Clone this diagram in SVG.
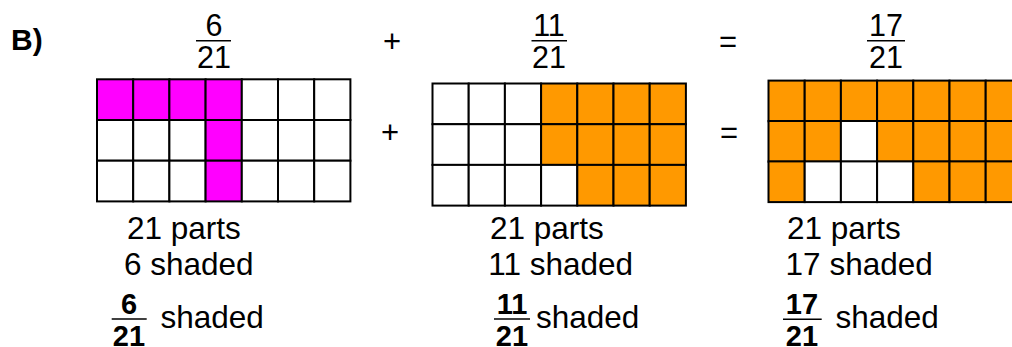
<svg xmlns="http://www.w3.org/2000/svg" width="1012" height="347" viewBox="0 0 1012 347">
<style>
.t{font-family:"Liberation Sans",Arial,sans-serif;font-size:31.5px;fill:#000}
.f{font-family:"Liberation Sans",Arial,sans-serif;font-size:30.5px;fill:#000;text-anchor:middle}
.fb{font-family:"Liberation Sans",Arial,sans-serif;font-size:29px;font-weight:bold;fill:#000;text-anchor:middle}
.op{font-family:"Liberation Sans",Arial,sans-serif;font-size:31px;fill:#000;text-anchor:middle}
.bar{stroke:#000;stroke-width:1.6}
.c rect{stroke:#000;stroke-width:2;width:36.2px;height:40.7px}
.w{fill:#fff}
.m{fill:#FF00FF}
.o{fill:#FF9900}
</style>
<rect width="1012" height="347" fill="#fff"/>
<g id="label-B"><text class="t" x="11" y="50" style="font-weight:bold;font-size:30px">B)</text></g>

<g id="frac-top-1">
<text class="f" x="214" y="36">6</text>
<line class="bar" x1="196" y1="40.7" x2="231" y2="40.7"/>
<text class="f" x="214" y="68">21</text>
</g>
<g id="frac-top-2">
<text class="f" x="549" y="36">11</text>
<line class="bar" x1="531.5" y1="40.7" x2="567" y2="40.7"/>
<text class="f" x="549" y="68">21</text>
</g>
<g id="frac-top-3">
<text class="f" x="886" y="36">17</text>
<line class="bar" x1="867" y1="40.7" x2="905" y2="40.7"/>
<text class="f" x="886" y="68">21</text>
</g>

<g id="ops">
<text class="op" x="392" y="51.5">+</text>
<text class="op" x="390" y="142.5">+</text>
<text class="op" x="728" y="52">=</text>
<text class="op" x="729" y="143">=</text>
</g>

<g id="grid-1" class="c" transform="translate(97,79.3)">
<rect class="m" x="0" y="0"/><rect class="m" x="36.2" y="0"/><rect class="m" x="72.4" y="0"/><rect class="m" x="108.6" y="0"/><rect class="w" x="144.8" y="0"/><rect class="w" x="181" y="0"/><rect class="w" x="217.2" y="0"/>
<rect class="w" x="0" y="40.7"/><rect class="w" x="36.2" y="40.7"/><rect class="w" x="72.4" y="40.7"/><rect class="m" x="108.6" y="40.7"/><rect class="w" x="144.8" y="40.7"/><rect class="w" x="181" y="40.7"/><rect class="w" x="217.2" y="40.7"/>
<rect class="w" x="0" y="81.4"/><rect class="w" x="36.2" y="81.4"/><rect class="w" x="72.4" y="81.4"/><rect class="m" x="108.6" y="81.4"/><rect class="w" x="144.8" y="81.4"/><rect class="w" x="181" y="81.4"/><rect class="w" x="217.2" y="81.4"/>
</g>

<g id="grid-2" class="c" transform="translate(432.5,83.5)">
<rect class="w" x="0" y="0"/><rect class="w" x="36.2" y="0"/><rect class="w" x="72.4" y="0"/><rect class="o" x="108.6" y="0"/><rect class="o" x="144.8" y="0"/><rect class="o" x="181" y="0"/><rect class="o" x="217.2" y="0"/>
<rect class="w" x="0" y="40.7"/><rect class="w" x="36.2" y="40.7"/><rect class="w" x="72.4" y="40.7"/><rect class="o" x="108.6" y="40.7"/><rect class="o" x="144.8" y="40.7"/><rect class="o" x="181" y="40.7"/><rect class="o" x="217.2" y="40.7"/>
<rect class="w" x="0" y="81.4"/><rect class="w" x="36.2" y="81.4"/><rect class="w" x="72.4" y="81.4"/><rect class="w" x="108.6" y="81.4"/><rect class="o" x="144.8" y="81.4"/><rect class="o" x="181" y="81.4"/><rect class="o" x="217.2" y="81.4"/>
</g>

<g id="grid-3" class="c" transform="translate(768.5,80.6)">
<rect class="o" x="0" y="0"/><rect class="o" x="36.2" y="0"/><rect class="o" x="72.4" y="0"/><rect class="o" x="108.6" y="0"/><rect class="o" x="144.8" y="0"/><rect class="o" x="181" y="0"/><rect class="o" x="217.2" y="0"/>
<rect class="o" x="0" y="40.4"/><rect class="o" x="36.2" y="40.4"/><rect class="w" x="72.4" y="40.4"/><rect class="o" x="108.6" y="40.4"/><rect class="o" x="144.8" y="40.4"/><rect class="o" x="181" y="40.4"/><rect class="o" x="217.2" y="40.4"/>
<rect class="o" x="0" y="80.8"/><rect class="w" x="36.2" y="80.8"/><rect class="w" x="72.4" y="80.8"/><rect class="w" x="108.6" y="80.8"/><rect class="o" x="144.8" y="80.8"/><rect class="o" x="181" y="80.8"/><rect class="o" x="217.2" y="80.8"/>
</g>

<g id="caption-1">
<text class="t" x="127" y="239">21 parts</text>
<text class="t" x="124" y="275">6 shaded</text>
<text class="fb" x="129" y="314">6</text>
<line class="bar" x1="111.7" y1="319" x2="146.7" y2="319"/>
<text class="fb" x="129" y="345.5">21</text>
<text class="t" x="160.5" y="328">shaded</text>
</g>
<g id="caption-2">
<text class="t" x="490" y="238.5">21 parts</text>
<text class="t" x="488.3" y="275">11 shaded</text>
<text class="fb" x="512" y="313.5">11</text>
<line class="bar" x1="494" y1="319" x2="530" y2="319"/>
<text class="fb" x="512" y="345.5">21</text>
<text class="t" x="536" y="328">shaded</text>
</g>
<g id="caption-3">
<text class="t" x="787" y="239">21 parts</text>
<text class="t" x="785.6" y="275">17 shaded</text>
<text class="fb" x="802" y="313.5">17</text>
<line class="bar" x1="783" y1="319.3" x2="821.7" y2="319.3"/>
<text class="fb" x="802" y="345.5">21</text>
<text class="t" x="835.5" y="328">shaded</text>
</g>
</svg>
